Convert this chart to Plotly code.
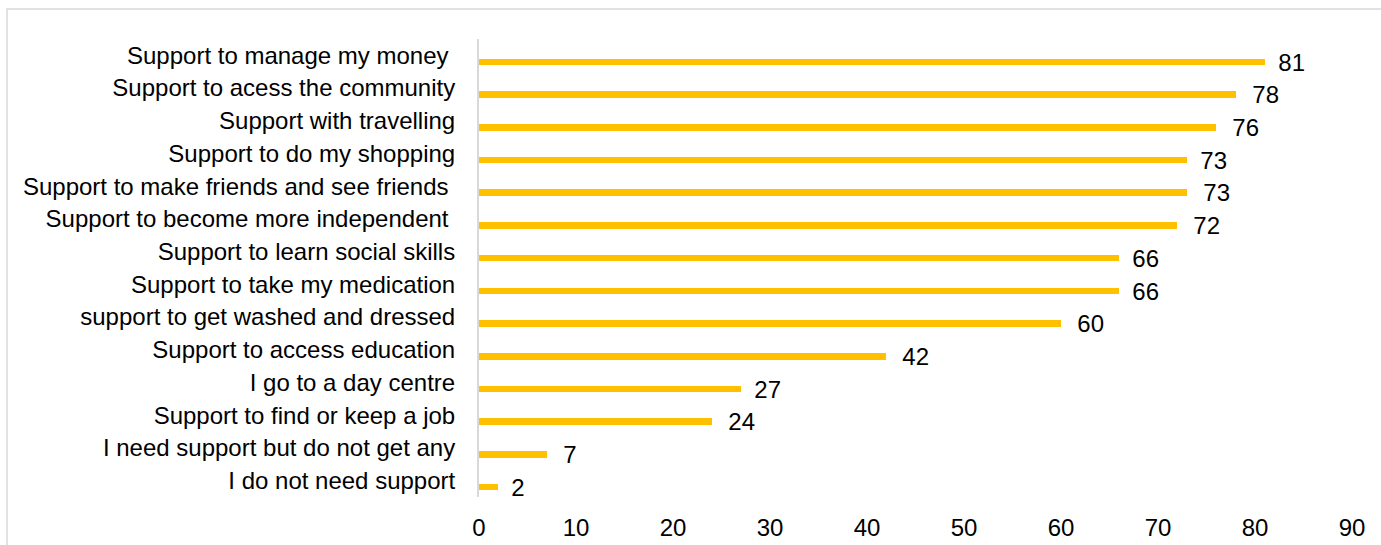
import plotly.graph_objects as go

# Kinds of support people receive (top to bottom) and the counts for each
categories = [
    "Support to manage my money\u00a0",
    "Support to acess the community",
    "Support with travelling",
    "Support to do my shopping",
    "Support to make friends and see friends\u00a0",
    "Support to become more independent\u00a0",
    "Support to learn social skills",
    "Support to take my medication",
    "support to get washed and dressed",
    "Support to access education",
    "I go to a day centre",
    "Support to find or keep a job",
    "I need support but do not get any",
    "I do not need support",
]
values = [81, 78, 76, 73, 73, 72, 66, 66, 60, 42, 27, 24, 7, 2]
x_ticks = [0, 10, 20, 30, 40, 50, 60, 70, 80, 90]

FONT = "Arial, 'Liberation Sans', sans-serif"
FS = 24
W, H = 1381, 545
L, R, T, B = 479, 29, 39, 48

fig = go.Figure()
fig.add_trace(go.Bar(
    y=categories,
    x=values,
    orientation="h",
    marker=dict(color="#FFC000", line=dict(width=0)),
    width=0.2,
    offset=0.1,
    text=values,
    texttemplate="\u00a0\u00a0%{x}",
    textposition="outside",
    constraintext="none",
    textfont=dict(family=FONT, size=FS, color="#000000"),
    cliponaxis=False,
    hoverinfo="skip",
))

# chart-area frame (light grey border running off the right and bottom edges)
pw, ph = W - L - R, H - T - B
fig.add_shape(
    type="rect", xref="paper", yref="paper", layer="below",
    x0=(7 - L) / pw, x1=(W + 20 - L) / pw,
    y0=(H - B - (H + 20)) / ph, y1=(H - B - 9) / ph,
    line=dict(color="#D9D9D9", width=1.5), fillcolor="rgba(0,0,0,0)",
)

fig.update_layout(
    width=W, height=H,
    margin=dict(l=L, r=R, t=T, b=B, pad=0, autoexpand=False),
    paper_bgcolor="#FFFFFF", plot_bgcolor="#FFFFFF",
    font=dict(family=FONT, size=FS, color="#000000"),
    showlegend=False,
    bargap=0,
)
fig.update_xaxes(
    range=[0, 90], tickvals=x_ticks, ticks="", showgrid=False,
    zeroline=False, showline=False, automargin=False,
    tickfont=dict(family=FONT, size=FS, color="#000000"),
    ticklabelstandoff=14,
)
fig.update_yaxes(
    type="category", categoryorder="array", categoryarray=categories,
    autorange="reversed", ticks="", showgrid=False, zeroline=False,
    showline=True, linecolor="#D9D9D9", linewidth=2, automargin=False,
    tickfont=dict(family=FONT, size=FS, color="#000000"),
    ticklabelstandoff=17,
)

fig.write_html("out.html")
